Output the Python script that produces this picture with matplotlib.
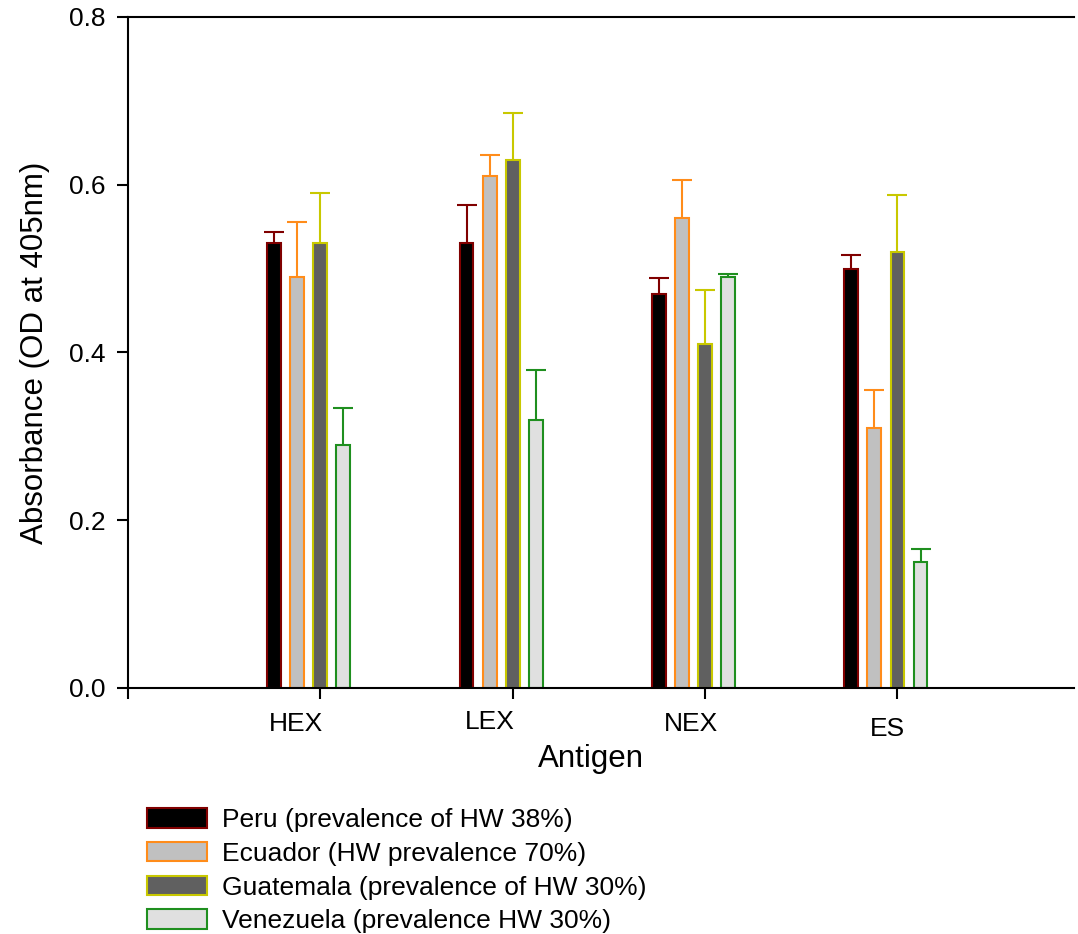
import matplotlib
matplotlib.use("Agg")
import matplotlib.pyplot as plt
import matplotlib.transforms as mtransforms
import numpy as np

plt.rcParams['font.family'] = ['Liberation Sans', 'DejaVu Sans']

antigens = ['HEX', 'LEX', 'NEX', 'ES']
countries = ['Peru (prevalence of HW 38%)', 'Ecuador (HW prevalence 70%)',
             'Guatemala (prevalence of HW 30%)', 'Venezuela (prevalence HW 30%)']
peru = [0.53, 0.53, 0.47, 0.50]
peru_err = [0.014, 0.046, 0.019, 0.016]
ecuador = [0.49, 0.61, 0.56, 0.31]
ecuador_err = [0.065, 0.026, 0.046, 0.045]
guatemala = [0.53, 0.63, 0.41, 0.52]
guatemala_err = [0.060, 0.056, 0.065, 0.068]
venezuela = [0.29, 0.32, 0.49, 0.15]
venezuela_err = [0.044, 0.059, 0.004, 0.016]

values = [peru, ecuador, guatemala, venezuela]
errors = [peru_err, ecuador_err, guatemala_err, venezuela_err]
fills = ['#000000', '#c0c0c0', '#606060', '#e0e0e0']
edges = ['#800000', '#ff8c1a', '#c8c800', '#1f8f1f']
offsets = [-0.24, -0.12, 0.0, 0.12]

fig = plt.figure(figsize=(10.78, 9.34), dpi=100)
ax = fig.add_axes([0.1187, 0.2634, 0.878, 0.7184])

x = np.arange(1, len(antigens) + 1)
for vals, errs, fc, ec, off, lab in zip(values, errors, fills, edges, offsets, countries):
    ax.bar(x + off, vals, width=0.072, color=fc, edgecolor=ec, linewidth=1.5, label=lab, zorder=2)
    eb = ax.errorbar(x + off, vals, yerr=[np.zeros(len(vals)), errs], fmt='none',
                     ecolor=ec, elinewidth=1.5, capsize=7.5, capthick=1.5, zorder=1)
    # only the upper cap is visible in the original
    eb[1][0].set_visible(False)

ax.set_xlim(0, 4.92)
ax.set_ylim(0, 0.8)
ax.set_xticks([0, 1, 2, 3, 4])
ax.set_xticklabels([''] + antigens, fontsize=19)
ax.set_yticks([0, 0.2, 0.4, 0.6, 0.8])
ax.set_yticklabels(['0.0', '0.2', '0.4', '0.6', '0.8'], fontsize=19)
ax.tick_params(axis='both', direction='out', length=8, width=1.5, pad=8)
ax.tick_params(axis='x', pad=9)
ax.spines['right'].set_visible(False)
for s in ['left', 'bottom', 'top']:
    ax.spines[s].set_linewidth(1.5)

# the original labels sit a little off their ticks
shifts = [(0, 0), (-24, 0), (-23, 2), (-14, 0), (-10, -5)]
for lbl, (dx, dy) in zip(ax.get_xticklabels(), shifts):
    lbl.set_transform(lbl.get_transform() +
                      mtransforms.ScaledTranslation(dx / 100, dy / 100, fig.dpi_scale_trans))

ax.set_xlabel('Antigen', fontsize=22.5)
ax.xaxis.set_label_coords(0.489, -0.083)
ax.set_ylabel('Absorbance (OD at 405nm)', fontsize=22.5, labelpad=14)

fig.legend(loc='upper left', bbox_to_anchor=(147 / 1078, 1 - 808 / 934), frameon=False,
           fontsize=19, handlelength=2.27, handleheight=0.76, labelspacing=0.37,
           handletextpad=0.57, borderpad=0, borderaxespad=0)

fig.savefig('out.png', dpi=100)
